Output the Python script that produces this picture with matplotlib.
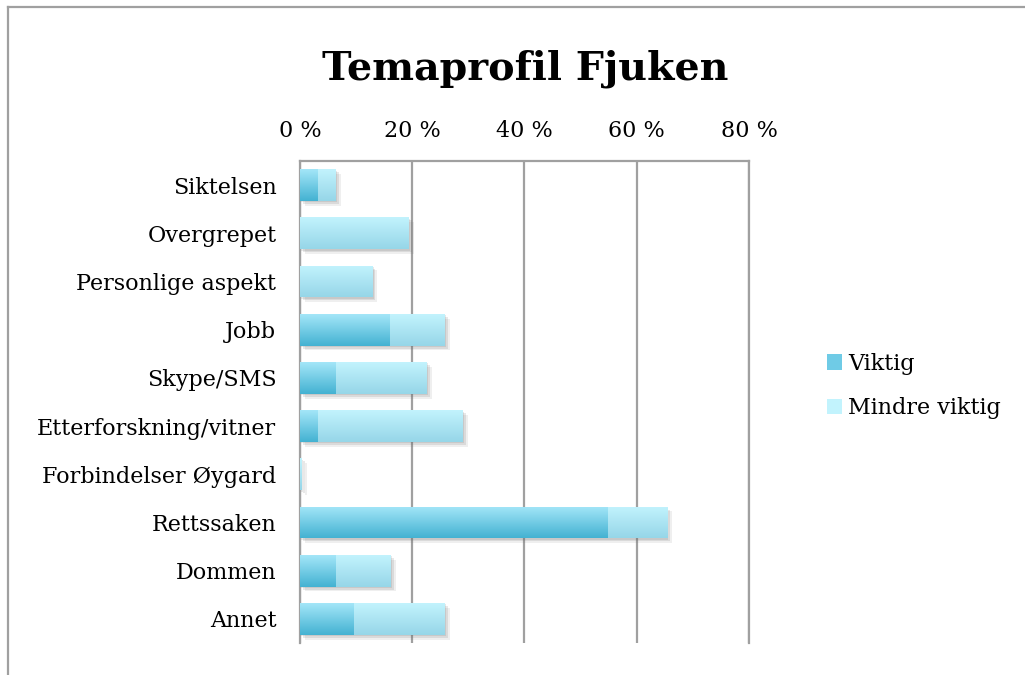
import matplotlib
matplotlib.use('Agg')
import matplotlib.pyplot as plt
import matplotlib.patheffects as pe
from matplotlib.colors import LinearSegmentedColormap
from matplotlib.patches import Patch
import numpy as np

plt.rcParams['font.family'] = ['DejaVu Serif']

categories = ['Siktelsen', 'Overgrepet', 'Personlige aspekt', 'Jobb', 'Skype/SMS',
              'Etterforskning/vitner', 'Forbindelser Øygard', 'Rettssaken', 'Dommen', 'Annet']
viktig = [3.2, 0, 0, 16.1, 6.5, 3.2, 0, 54.8, 6.5, 9.7]
mindre_viktig = [3.2, 19.4, 12.9, 9.7, 16.1, 25.8, 0.3, 10.6, 9.7, 16.1]
xticks = [0, 20, 40, 60, 80]

dark_cmap = LinearSegmentedColormap.from_list('dark', ['#a3e6f8', '#44b2d2'])
light_cmap = LinearSegmentedColormap.from_list('light', ['#c2f3fd', '#96d6e8'])

fig = plt.figure(figsize=(10.25, 6.75), dpi=100)
ax = fig.add_axes([0.2927, 0.0474, 0.438, 0.7141])

y = np.arange(len(categories))
shadow = [pe.SimplePatchShadow(offset=(3.5, -3.5), shadow_rgbFace='#666666', alpha=0.1),
          pe.SimplePatchShadow(offset=(2.2, -2.2), shadow_rgbFace='#666666', alpha=0.15),
          pe.SimplePatchShadow(offset=(1.0, -1.0), shadow_rgbFace='#666666', alpha=0.15),
          pe.Normal()]
bars1 = ax.barh(y, viktig, height=0.66, color='#6fcbe6', label='Viktig', zorder=3)
bars2 = ax.barh(y, mindre_viktig, left=viktig, height=0.66, color='#ace6f3',
                label='Mindre viktig', zorder=3)

grad = np.linspace(0, 1, 64).reshape(-1, 1)
for bars, cmap in [(bars1, dark_cmap), (bars2, light_cmap)]:
    for p in bars:
        x0, yb = p.get_x(), p.get_y()
        w, h = p.get_width(), p.get_height()
        if w <= 0:
            continue
        p.set_path_effects(shadow)
        im = ax.imshow(grad, cmap=cmap, aspect='auto', extent=(x0, x0 + w, yb + h, yb),
                       origin='upper', zorder=4)
        im.set_clip_path(p)

ax.set_xlim(0, 80)
ax.set_ylim(len(categories) - 0.5, -0.5)
ax.set_xticks(xticks)
ax.set_xticklabels([f'{t} %' for t in xticks])
ax.xaxis.tick_top()
ax.tick_params(axis='x', length=0, pad=14, labelsize=16)
ax.set_yticks(y)
ax.set_yticklabels(categories)
ax.tick_params(axis='y', length=0, pad=17, labelsize=16)
ax.grid(axis='x', color='#a0a0a0', linewidth=1.6, zorder=1)
ax.set_axisbelow(True)
for s in ['top', 'left', 'right']:
    ax.spines[s].set_color('#a0a0a0')
    ax.spines[s].set_linewidth(1.6)
ax.spines['bottom'].set_visible(False)

fig.text(0.512, 0.898, 'Temaprofil Fjuken', ha='center', va='center',
         fontsize=28.5, fontweight='bold')

handles = [Patch(facecolor='#6fcbe6', label='Viktig'),
           Patch(facecolor='#c2f3fd', label='Mindre viktig')]
fig.legend(handles=handles, loc='center left', bbox_to_anchor=(0.787, 0.428), frameon=False,
           fontsize=16, handlelength=0.7, handleheight=0.7, handletextpad=0.25,
           labelspacing=1.0)

# outer chart frame
fig.add_artist(plt.Line2D([8 / 1025, 8 / 1025], [0, 1 - 7 / 675], color='#a0a0a0', lw=1.6))
fig.add_artist(plt.Line2D([8 / 1025, 1], [1 - 7 / 675, 1 - 7 / 675], color='#a0a0a0', lw=1.6))

fig.savefig('out.png', dpi=100)
